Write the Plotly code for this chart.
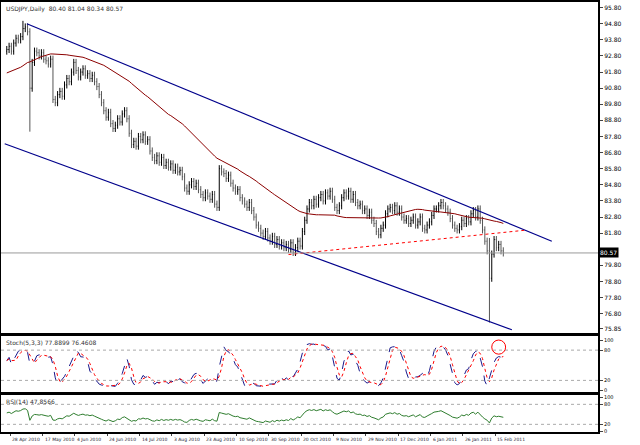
import numpy as np
import plotly.graph_objects as go

# ---- data (USDJPY daily) ----
prior_closes = [90.2, 90.5, 90.8, 91.2, 91.0, 90.6, 90.1, 89.8, 89.6, 89.2,
                89.0, 88.8, 89.3, 89.6, 89.9, 90.3, 90.5, 90.1, 90.4, 90.6,
                90.3, 90.0, 90.4, 90.7, 91.2, 91.6, 92.2, 92.5, 92.8, 92.4,
                92.6, 92.9, 93.3, 93.7, 94.2, 94.6, 94.3, 93.8, 93.5, 93.2,
                93.0, 93.4, 93.1, 93.4, 93.6, 93.2, 93.0, 93.5, 93.3, 93.1]
closes = [93.2, 93.4, 93.1, 93.6, 93.9, 93.8, 94.0, 94.5, 94.6, 94.3,
          90.8, 92.4, 93.1, 93.0, 92.8, 93.0, 92.6, 92.5, 92.3, 92.6,
          90.1, 89.9, 90.4, 90.6, 90.3, 91.0, 91.4, 91.2, 91.8, 92.4,
          91.9, 91.5, 91.8, 92.0, 91.6, 91.7, 91.4, 91.6, 91.2, 90.9,
          90.4, 89.9, 89.4, 89.0, 89.3, 88.6, 88.3, 88.5, 88.9, 88.7,
          89.2, 89.4, 88.9, 88.0, 87.3, 87.5, 87.2, 87.8, 87.6, 87.9,
          87.5, 87.6, 86.9, 86.5, 86.3, 86.6, 86.2, 86.5, 86.0, 86.2,
          85.9, 86.1, 85.7, 85.9, 85.6, 85.7, 85.3, 84.6, 84.4, 84.8,
          85.0, 84.7, 84.9, 84.5, 84.2, 84.0, 84.3, 84.1, 83.9, 84.2,
          83.6, 83.4, 85.8, 85.6, 85.5, 85.2, 85.4, 84.9, 84.6, 84.4,
          84.5, 84.0, 83.8, 83.6, 83.4, 83.7, 83.2, 82.8, 82.3, 82.1,
          81.8, 81.6, 81.9, 81.5, 81.3, 81.6, 81.1, 81.4, 81.0, 81.2,
          80.9, 81.1, 80.8, 81.2, 80.6, 80.9, 81.3, 81.0, 81.9, 82.6,
          83.3, 83.7, 83.5, 83.9, 83.6, 84.0, 84.2, 83.8, 84.3, 84.1,
          84.4, 83.9, 83.4, 83.2, 83.5, 84.0, 84.3, 84.1, 84.4, 83.9,
          84.2, 83.7, 83.5, 83.6, 83.2, 83.3, 82.9, 83.1, 82.6, 82.4,
          81.9, 81.7, 82.1, 82.3, 83.0, 83.3, 83.4, 83.2, 83.5, 83.1,
          83.3, 82.8, 82.6, 82.7, 82.4, 82.6, 82.8, 82.3, 82.5, 82.8,
          82.1, 82.0, 82.3, 82.5, 82.9, 83.3, 83.3, 83.5, 83.7, 83.5,
          83.3, 83.1, 82.7, 82.3, 82.1, 82.0, 82.2, 82.6, 82.4, 82.7,
          82.5, 83.0, 83.2, 82.8, 83.3, 82.6, 82.0, 81.3, 80.7, 79.0,
          80.5, 81.4, 80.9, 81.1, 80.7, 80.57]
wick = 0.22
spike_idx = [10, 209, 7]
spike_low = [88.1, 76.25, 94.3]
spike_high = [93.6, 81.5, 94.98]
x_labels = ["28 Apr 2010", "17 May 2010", "4 Jun 2010", "24 Jun 2010", "14 Jul 2010",
            "3 Aug 2010", "23 Aug 2010", "10 Sep 2010", "30 Sep 2010", "20 Oct 2010",
            "9 Nov 2010", "29 Nov 2010", "17 Dec 2010", "6 Jan 2011", "26 Jan 2011",
            "15 Feb 2011"]
price_ticks = [95.80, 94.80, 93.80, 92.80, 91.80, 90.80, 89.80, 88.80, 87.80, 86.80,
               85.80, 84.80, 83.80, 82.80, 81.80, 79.80, 78.80, 77.80, 76.80, 75.85]
upper_chan = ([8.7, 236.0], [94.8, 81.3])
lower_chan = ([-0.9, 218.7], [87.35, 75.8])
support_line = ([122.0, 225.0], [80.47, 81.99])

# ---- build OHLC ----
allc = np.array(prior_closes + closes)
n0 = len(prior_closes)
c = np.array(closes)
o = allc[n0 - 1:-1]
h = np.maximum(o, c) + wick
l = np.minimum(o, c) - wick
for i, lo, hi in zip(spike_idx, spike_low, spike_high):
    l[i] = min(l[i], lo); h[i] = max(h[i], hi)
x = np.arange(len(c))

ma = np.array([allc[n0 + i - 49:n0 + i + 1].mean() for i in range(len(c))])

# stochastic (smoothed)
KP = 9
hh = np.array([h[max(0, i - KP + 1):i + 1].max() for i in range(len(c))])
ll = np.array([l[max(0, i - KP + 1):i + 1].min() for i in range(len(c))])
num = c - ll; den = hh - ll
k = np.array([num[max(0, i - 2):i + 1].sum() / den[max(0, i - 2):i + 1].sum() * 100 for i in range(len(c))])
d = np.array([k[max(0, i - 2):i + 1].mean() for i in range(len(c))])

# RSI 14 (Wilder)
diff = np.diff(allc)
up = np.where(diff > 0, diff, 0); dn = np.where(diff < 0, -diff, 0)
au = up[:14].mean(); ad = dn[:14].mean(); rsi_all = []
for i in range(14, len(diff)):
    au = (au * 13 + up[i]) / 14; ad = (ad * 13 + dn[i]) / 14
    rsi_all.append(100 - 100 / (1 + au / ad))
rsi = np.array(rsi_all[-len(c):])

# ---- figure ----
W, H = 640, 445
ml, mr, mt, mb = 1, 42, 2, 12
ph = H - mt - mb
def yd(top, bot):
    return [1 - (bot - mt) / ph, 1 - (top - mt) / ph]

fig = go.Figure()
fig.add_trace(go.Ohlc(x=x, open=o, high=h, low=l, close=c,
                      increasing=dict(line=dict(color="black", width=1)),
                      decreasing=dict(line=dict(color="#555", width=1)),
                      tickwidth=0.3, xaxis="x", yaxis="y", hoverinfo="skip"))
fig.add_trace(go.Scatter(x=x, y=ma, mode="lines", line=dict(color="#8b0000", width=1), xaxis="x", yaxis="y"))
for (lx, ly) in [upper_chan, lower_chan]:
    fig.add_trace(go.Scatter(x=lx, y=ly, mode="lines", line=dict(color="#00008b", width=1.2), xaxis="x", yaxis="y"))
fig.add_trace(go.Scatter(x=support_line[0], y=support_line[1], mode="lines",
                         line=dict(color="red", width=1, dash="dot"), xaxis="x", yaxis="y"))
fig.add_trace(go.Scatter(x=x, y=k, mode="lines", line=dict(color="#1a1a8c", width=1, dash="dash"), xaxis="x2", yaxis="y2"))
fig.add_trace(go.Scatter(x=x, y=d, mode="lines", line=dict(color="red", width=1, dash="dot"), xaxis="x2", yaxis="y2"))
fig.add_trace(go.Scatter(x=x, y=rsi, mode="lines", line=dict(color="#2e7d2e", width=1), xaxis="x3", yaxis="y3"))

xr = [-2.5, 256]
axx = dict(range=xr, showgrid=False, zeroline=False, showline=True, linecolor="black",
           linewidth=2, mirror=True, fixedrange=True, automargin=False)
tick_font = dict(family="DejaVu Sans", size=6, color="black")
axy = dict(side="right", showgrid=False, zeroline=False, showline=True, linecolor="black",
           linewidth=2, mirror=True, ticks="outside", ticklen=3, tickfont=tick_font, automargin=False)
small_font = dict(family="DejaVu Sans", size=5, color="black")
xfont = dict(family="DejaVu Sans", size=4.5, color="#223")
tick_pos = [i * 14 + 1.5 for i in range(len(x_labels))]
fig.update_layout(
    width=W, height=H, margin=dict(l=ml, r=mr, t=mt, b=mb),
    paper_bgcolor="white", plot_bgcolor="white", showlegend=False,
    xaxis=dict(**axx, domain=[0, 1], anchor="y", showticklabels=False, rangeslider=dict(visible=False)),
    xaxis2=dict(**axx, domain=[0, 1], anchor="y2", showticklabels=False, matches="x"),
    xaxis3=dict(**axx, domain=[0, 1], anchor="y3", matches="x", tickmode="array",
                tickvals=tick_pos, showticklabels=False, ticks="outside", ticklen=2),
    yaxis=dict(**axy, domain=yd(2, 333), range=[75.6, 96.15], tickmode="array",
               tickvals=price_ticks, ticktext=[f"{v:.2f}" for v in price_ticks]),
    yaxis2=dict(**axy, domain=yd(336, 392), range=[-3, 108], tickmode="array",
                tickvals=[0, 20, 80, 100], ticktext=["0", "20", "80", "100"]),
    yaxis3=dict(**axy, domain=yd(395, 432), range=[-3, 108], tickmode="array",
                tickvals=[0, 20, 80, 100], ticktext=["0", "20", "80", "100"]),
)
fig.update_layout(yaxis2_tickfont=small_font, yaxis3_tickfont=small_font)
for tp, lab in zip(tick_pos, x_labels):
    fig.add_annotation(xref="x3", yref="paper", x=tp, y=0, yshift=-2, text=lab,
                       showarrow=False, xanchor="left", yanchor="top", font=xfont)
for ya, lv in [("y2", 80), ("y2", 20), ("y3", 80), ("y3", 20)]:
    fig.add_shape(type="line", xref="x", yref=ya, x0=xr[0], x1=xr[1], y0=lv, y1=lv,
                  line=dict(color="#aaa", width=1, dash="dot"))
fig.add_shape(type="line", xref="x", yref="y", x0=xr[0], x1=xr[1], y0=c[-1], y1=c[-1],
              line=dict(color="#999", width=1))
fig.add_shape(type="circle", xref="x", yref="y2", x0=210, x1=216, y0=72, y1=100,
              line=dict(color="red", width=1))
fig.add_annotation(xref="paper", yref="y", x=1.0, y=c[-1], text=f"{c[-1]:.2f}", showarrow=False,
                   xanchor="left", bgcolor="black", font=dict(color="white", size=6, family="DejaVu Sans"),
                   borderpad=1)
lab_font = dict(family="DejaVu Sans", size=6, color="#333")
fig.add_annotation(xref="paper", yref="paper", x=0.005, y=yd(2, 333)[1] - 0.003, text="USDJPY,Daily  80.40 81.04 80.34 80.57",
                   showarrow=False, xanchor="left", yanchor="top", font=lab_font)
fig.add_annotation(xref="paper", yref="paper", x=0.005, y=yd(336, 392)[1] - 0.003, text="Stoch(5,3,3) 77.8899 76.4608",
                   showarrow=False, xanchor="left", yanchor="top", font=lab_font)
fig.add_annotation(xref="paper", yref="paper", x=0.005, y=yd(395, 432)[1] - 0.003, text="RSI(14) 47.8566",
                   showarrow=False, xanchor="left", yanchor="top", font=lab_font)
fig.write_html("out.html", config={"displayModeBar": False},
               post_script="document.body.style.margin='0';document.body.style.overflow='hidden';")
